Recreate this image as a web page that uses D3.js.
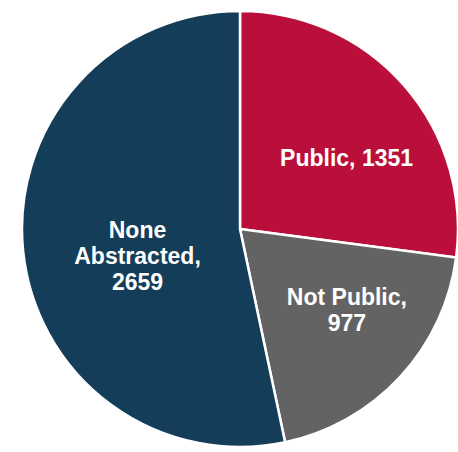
<!DOCTYPE html>
<html>
<head>
<meta charset="utf-8">
<script src="https://cdn.jsdelivr.net/npm/d3@7"></script>
<style>
  body { margin: 0; background: #fff; }
  text { font-family: "Liberation Sans", Arial, sans-serif; font-weight: bold; fill: #fff; }
</style>
</head>
<body>
<div id="chart"></div>
<script>
// slice data, clockwise from 12 o'clock
var categories = ['Public', 'Not Public', 'None Abstracted'];
var counts = [1351, 977, 2659];
var labelLines = [['Public, 1351'], ['Not Public,', '977'], ['None', 'Abstracted,', '2659']];
var colors = ['#BA0F3B', '#636363', '#143D59'];

var w = 458;
var h = 452;
var cx = 240, cy = 229, r = 218;

var svg = d3.select('#chart').append('svg')
  .attr('width', w)
  .attr('height', h);

var g = svg.append('g')
  .attr('transform', 'translate(' + cx + ',' + cy + ')');

var pie = d3.pie().sort(null).value(function(d) { return d; });
var arcs = pie(counts);

var arc = d3.arc().innerRadius(0).outerRadius(r);

g.selectAll('path')
  .data(arcs)
  .enter().append('path')
  .attr('d', arc)
  .attr('fill', function(d, i) { return colors[i]; })
  .attr('stroke', '#fff')
  .attr('stroke-width', 2.5);

// label placement, roughly where excel put them
var labelRadius = [128, 134, 106];
var labelShift = [7.6, -5.7, -8.8]; // degrees off the slice middle

var lab = g.selectAll('text.lbl')
  .data(arcs)
  .enter().append('text')
  .attr('class', 'lbl')
  .attr('text-anchor', 'middle')
  .attr('font-size', 23)
  .attr('transform', function(d, i) {
    var a = (d.startAngle + d.endAngle) / 2 + labelShift[i] * Math.PI / 180;
    var x = Math.sin(a) * labelRadius[i];
    var y = -Math.cos(a) * labelRadius[i];
    return 'translate(' + x + ',' + y + ')';
  });

lab.each(function(d, i) {
  var lines = labelLines[i];
  var t = d3.select(this);
  var lh = 26;
  var top = -(lines.length - 1) * lh / 2 + 8;
  lines.forEach(function(s, k) {
    t.append('tspan')
      .attr('x', 0)
      .attr('y', top + k * lh)
      .text(s);
  });
});
</script>
</body>
</html>
